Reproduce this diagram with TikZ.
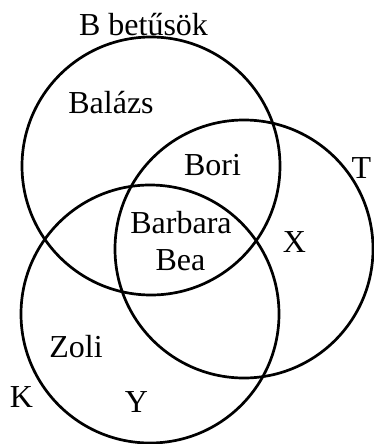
\documentclass[tikz,border=0pt]{standalone}
\usepackage{fontspec}
\setmainfont{Liberation Serif}
\usepackage{tikz}

\tikzset{
  venn/.style={line width=2.7pt},
  lbl/.style={anchor=base, inner sep=0pt, font=\fontsize{32}{37}\selectfont}
}

\begin{document}
\begin{tikzpicture}[x=1pt, y=-1pt]

          \useasboundingbox (0,0) rectangle (374,444);

          % Define the centres of the three sets and draw them
          \foreach \name/\x/\y in {B/151/166, T/244/249, K/150/314} {
              \coordinate (c\name) at (\x,\y);
              \draw[venn] (c\name) circle (129);
          }

          % Names of the sets
          \node[lbl] (nB) at (143.5,36) {B betűsök};
          \node[lbl] (nT) at (361.5,178) {T};
          \node[lbl] (nK) at (21.5,407) {K};

          % Elements in the regions
          \node[lbl] (balazs) at (111,113) {Balázs};
          \node[lbl] (bori) at (212.5,175) {Bori};
          \node[lbl] (barbara) at (181,233) {Barbara};
          \node[lbl] (bea) at (180.5,270) {Bea};
          \node[lbl] (x) at (294.5,252) {X};
          \node[lbl] (zoli) at (76,357) {Zoli};
          \node[lbl] (y) at (136.5,412) {Y};

\end{tikzpicture}
\end{document}
